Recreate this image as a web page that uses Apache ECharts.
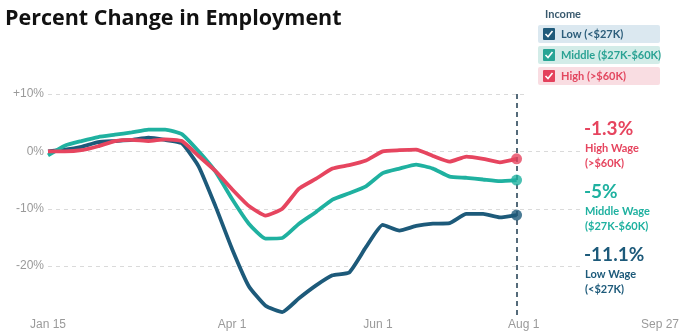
<!DOCTYPE html>
<html>
<head>
    <meta charset="utf-8">
    <title>Percent Change in Employment</title>
    <script src="https://cdn.jsdelivr.net/npm/echarts@6/dist/echarts.min.js"></script>
</head>
<body style="margin:0;">
<div id="main" style="width: 689px;height:336px;"></div>
<script type="text/javascript">
    // days after Jan 15 (weekly points)
    var weekDays = [0, 7, 14, 21, 28, 35, 42, 49, 56, 63, 70, 77, 84, 91, 98, 105, 112, 119, 126, 133, 140, 147, 154, 161, 168, 175, 182, 189, 196];

    var lowWage = [0.0, 0.3, 0.8, 1.6, 1.8, 2.0, 2.4, 2.0, 1.4, -2.6, -9.5, -17.0, -23.5, -26.9, -28.0, -25.6, -23.4, -21.6, -21.1, -16.7, -12.8, -13.8, -13.0, -12.6, -12.5, -10.9, -10.9, -11.5, -11.1];
    var middleWage = [-0.7, 1.0, 1.8, 2.5, 2.9, 3.3, 3.8, 3.8, 3.0, 0.0, -3.5, -8.3, -12.6, -15.2, -15.1, -12.6, -10.6, -8.4, -7.3, -6.1, -3.8, -3.0, -2.3, -3.0, -4.4, -4.6, -4.9, -5.2, -5.0];
    var highWage = [0.0, 0.0, 0.2, 0.9, 1.8, 2.0, 1.8, 2.1, 1.8, -0.8, -3.4, -6.6, -9.5, -11.2, -10.0, -6.5, -4.8, -3.0, -2.4, -1.6, 0.0, 0.2, 0.3, -0.8, -1.8, -0.9, -1.3, -1.9, -1.3];

    var tickDays = [0, 77, 138, 199, 256];
    var tickLabels = ['Jan 15', 'Apr 1', 'Jun 1', 'Aug 1', 'Sep 27'];

    var lowColor = '#1d5a7a';
    var midColor = '#1fb1a0';
    var highColor = '#e6455f';

    function pairs(vals) {
        return weekDays.map(function (d, i) { return [d, vals[i]]; });
    }
    var last = weekDays.length - 1;

    var myChart = echarts.init(document.getElementById('main'));

    function lineSeries(name, vals, color) {
        return {
            name: name,
            type: 'line',
            data: pairs(vals),
            showSymbol: false,
            smooth: 0.15,
            lineStyle: { color: color, width: 3.8 },
            itemStyle: { color: color },
            z: 3
        };
    }

    var legendRows = [
        { label: 'Low (<$27K)', color: '#1f5a7a', text: '#2c5d7a', bg: '#dbe8f0', y: 25 },
        { label: 'Middle ($27K-$60K)', color: '#27a595', text: '#2aa293', bg: '#d3ece8', y: 46 },
        { label: 'High (>$60K)', color: '#e4415c', text: '#e2475f', bg: '#f9dde2', y: 67 }
    ];
    var graphics = [
        { type: 'rect', shape: { x: 582, y: 86, width: 107, height: 215 }, style: { fill: '#fff' }, z: 1 },
        { type: 'rect', shape: { x: 528, y: 89, width: 60, height: 8 }, style: { fill: '#fff' }, z: 1 },
        { type: 'text', x: 545, y: 14, style: { text: 'Income', font: 'bold 11px Lato', fill: '#3a5a6e', verticalAlign: 'middle' }, z: 2 }
    ];
    legendRows.forEach(function (r) {
        graphics.push({ type: 'rect', shape: { x: 538, y: r.y, width: 122, height: 18, r: 2 }, style: { fill: r.bg }, z: 2 });
        graphics.push({ type: 'rect', shape: { x: 543, y: r.y + 3, width: 12, height: 12, r: 1 }, style: { fill: r.color }, z: 3 });
        graphics.push({ type: 'polyline', shape: { points: [[545.5, r.y + 9], [548, r.y + 11.5], [552.5, r.y + 6]] }, style: { stroke: '#fff', lineWidth: 1.6, fill: null }, z: 4 });
        graphics.push({ type: 'text', x: 561, y: r.y + 9, style: { text: r.label, font: 'bold 11px Lato', fill: r.text, verticalAlign: 'middle' }, z: 3 });
    });

    var notes = [
        { big: '-1.3%', l1: 'High Wage', l2: '(>$60K)', color: highColor, y: 129 },
        { big: '-5%', l1: 'Middle Wage', l2: '($27K-$60K)', color: midColor, y: 192 },
        { big: '-11.1%', l1: 'Low Wage', l2: '(<$27K)', color: lowColor, y: 255 }
    ];
    notes.forEach(function (n) {
        graphics.push({ type: 'text', x: 584, y: n.y, style: { text: n.big, font: 'bold 19px Lato', fill: n.color, verticalAlign: 'middle' }, z: 3 });
        graphics.push({ type: 'text', x: 585, y: n.y + 19, style: { text: n.l1, font: 'bold 11px Lato', fill: n.color, verticalAlign: 'middle' }, z: 3 });
        graphics.push({ type: 'text', x: 585, y: n.y + 34, style: { text: n.l2, font: 'bold 11px Lato', fill: n.color, verticalAlign: 'middle' }, z: 3 });
    });

    var low = lineSeries('Low', lowWage, lowColor);
    low.markLine = {
        silent: true,
        symbol: 'none',
        label: { show: false },
        lineStyle: { color: '#1e3b4f', type: [5, 4], width: 1.5 },
        data: [[{ coord: [weekDays[last], 10] }, { coord: [weekDays[last], -28.5] }]]
    };

    option = {
        animation: false,
        title: {
            text: 'Percent Change in Employment',
            left: 5,
            top: 8,
            padding: 0,
            textStyle: { fontFamily: 'Open Sans', fontWeight: 'bold', fontSize: 21.5, color: '#111' }
        },
        grid: { left: 48, right: 29, top: 94, bottom: 12.5, outerBoundsMode: 'none' },
        xAxis: {
            type: 'value',
            min: 0,
            max: 256,
            axisLine: { show: false },
            axisTick: { show: false },
            splitLine: { show: false },
            axisLabel: {
                customValues: tickDays,
                margin: -5,
                color: '#9a9a9a',
                fontFamily: 'Liberation Sans',
                fontSize: 12,
                formatter: function (v) {
                    var i = tickDays.indexOf(v);
                    return i >= 0 ? tickLabels[i] : '';
                }
            }
        },
        yAxis: {
            type: 'value',
            min: -30,
            max: 10,
            interval: 10,
            axisLine: { show: false },
            axisTick: { show: false },
            splitLine: { showMinLine: false, lineStyle: { color: '#dadada', type: [4, 4] } },
            axisLabel: {
                margin: 4,
                color: '#9a9a9a',
                fontFamily: 'Liberation Sans',
                fontSize: 12,
                formatter: function (v) {
                    if (v === -30) return '';
                    return (v > 0 ? '+' : '') + v + '%';
                }
            }
        },
        graphic: graphics,
        series: [
            low,
            lineSeries('Middle', middleWage, midColor),
            lineSeries('High', highWage, highColor),
            {
                type: 'scatter',
                symbolSize: 11,
                z: 5,
                data: [
                    { value: [weekDays[last], highWage[last]], itemStyle: { color: highColor } },
                    { value: [weekDays[last], middleWage[last]], itemStyle: { color: midColor } },
                    { value: [weekDays[last], lowWage[last]], itemStyle: { color: lowColor } }
                ]
            }
        ]
    };

    myChart.setOption(option);
</script>
</body>
</html>
